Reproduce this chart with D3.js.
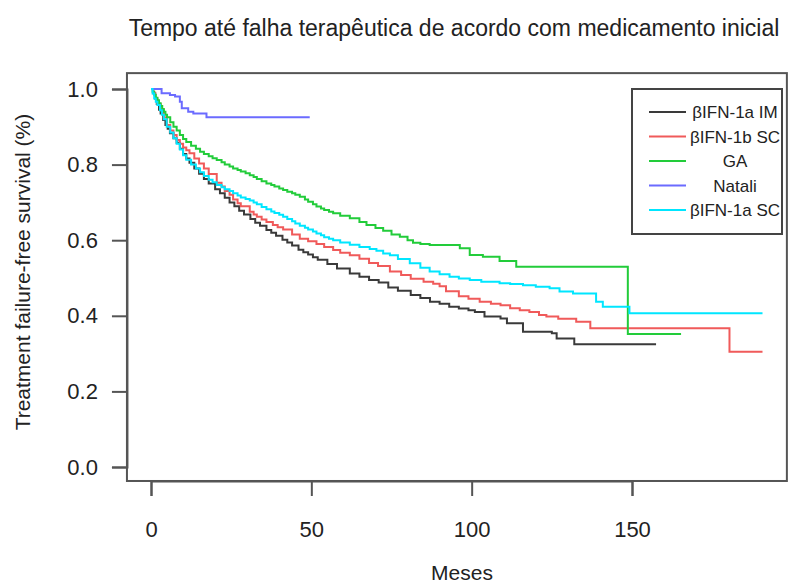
<!DOCTYPE html>
<html>
<head>
<meta charset="utf-8">
<script src="https://cdn.jsdelivr.net/npm/d3@7"></script>
<style>
  body { margin: 0; background: #fff; }
  text { font-family: "Liberation Sans", Arial, sans-serif; fill: #222; }
</style>
</head>
<body>
<div id="vis"></div>
<script>
var width = 791,
    height = 586;

// series names and colours
var seriesNames = ["βIFN-1a IM", "βIFN-1b SC", "GA", "Natali", "βIFN-1a SC"];
var seriesColors = ["#3a3a3a", "#f05a5a", "#22cc3a", "#6b6bff", "#00e6ff"];

// time (months) and survival
var imTime = [0, 0.7, 1.3, 1.8, 2.5, 3, 3.8, 4.5, 5.2, 5.9, 7, 8, 9, 10, 11, 12, 13.5, 15, 16.5, 18, 20, 21.5, 23, 24.5, 26, 27.5, 29, 31, 32.5, 34, 36, 37.5, 39, 41, 42.5, 44, 46, 47.5, 49, 50.5, 52, 55, 58, 62, 65, 68, 71, 74, 77, 81, 84, 87, 90, 93, 96, 99, 101, 104, 109, 111, 116, 125, 126.5, 132, 157.5];
var imSurv = [1.0, 0.989, 0.975, 0.96, 0.945, 0.935, 0.918, 0.905, 0.895, 0.883, 0.87, 0.858, 0.842, 0.828, 0.816, 0.805, 0.79, 0.776, 0.762, 0.75, 0.735, 0.724, 0.712, 0.70, 0.69, 0.678, 0.668, 0.656, 0.646, 0.638, 0.627, 0.62, 0.612, 0.601, 0.594, 0.586, 0.575, 0.568, 0.562, 0.555, 0.548, 0.537, 0.525, 0.512, 0.503, 0.495, 0.488, 0.475, 0.466, 0.455, 0.447, 0.437, 0.432, 0.424, 0.419, 0.415, 0.41, 0.398, 0.393, 0.38, 0.358, 0.354, 0.34, 0.325, 0.325];

var bscTime = [0, 0.7, 1.3, 2, 3, 4, 5, 6, 7, 8, 9, 10, 11, 12, 13.5, 15, 16.5, 18, 20.5, 22, 23, 24.5, 25.6, 27, 28, 30.8, 32, 33, 34.5, 36, 38, 39.5, 41.2, 44, 46.4, 49, 51.6, 54, 56.8, 59, 62, 65, 68, 70.8, 74.5, 78, 81, 85, 88, 90, 92, 96, 99, 102.5, 106, 109, 112, 115, 118, 121, 123.3, 127, 132.6, 137, 180.4, 190.7];
var bscSurv = [1.0, 0.99, 0.975, 0.96, 0.944, 0.925, 0.905, 0.89, 0.878, 0.865, 0.855, 0.845, 0.838, 0.83, 0.816, 0.803, 0.79, 0.775, 0.752, 0.742, 0.73, 0.72, 0.708, 0.698, 0.69, 0.675, 0.668, 0.662, 0.655, 0.648, 0.64, 0.634, 0.628, 0.615, 0.604, 0.597, 0.59, 0.582, 0.574, 0.567, 0.56, 0.551, 0.54, 0.532, 0.517, 0.508, 0.498, 0.49, 0.485, 0.478, 0.465, 0.452, 0.445, 0.437, 0.432, 0.428, 0.42, 0.415, 0.41, 0.402, 0.398, 0.392, 0.384, 0.367, 0.305, 0.305];

var gaTime = [0, 0.5, 1, 1.5, 2, 2.5, 3, 3.5, 4, 4.5, 5, 6, 7, 8, 9, 10, 11, 12.5, 14, 15.3, 16.5, 18, 19.2, 20.5, 22, 23, 24.5, 25.6, 27, 28, 29.5, 30.8, 32, 33, 34.5, 36, 37.5, 38.5, 40, 41.2, 42.5, 44, 45, 46.4, 48, 49, 50.5, 51.6, 53, 54, 55.5, 56.8, 59, 62, 65, 67.2, 70, 72.4, 75, 77.6, 80, 81.7, 84, 86.9, 96.3, 99.4, 103.5, 108.7, 113.9, 148.7, 165.3];
var gaSurv = [1.0, 0.993, 0.985, 0.977, 0.97, 0.962, 0.955, 0.947, 0.94, 0.932, 0.925, 0.912, 0.9, 0.89, 0.878, 0.868, 0.86, 0.85, 0.842, 0.834, 0.828, 0.822, 0.817, 0.812, 0.806, 0.8, 0.795, 0.79, 0.786, 0.782, 0.777, 0.772, 0.767, 0.762, 0.756, 0.75, 0.746, 0.742, 0.737, 0.733, 0.728, 0.724, 0.72, 0.715, 0.708, 0.702, 0.695, 0.689, 0.684, 0.68, 0.675, 0.671, 0.665, 0.658, 0.648, 0.64, 0.632, 0.625, 0.615, 0.609, 0.6, 0.593, 0.59, 0.587, 0.579, 0.561, 0.556, 0.545, 0.53, 0.352, 0.352];

var natTime = [0, 3.3, 5.9, 7.5, 9.0, 9.6, 11.6, 13.2, 17.3, 49.5];
var natSurv = [1.0, 0.989, 0.984, 0.98, 0.966, 0.949, 0.94, 0.935, 0.925, 0.925];

var ascTime = [0, 0.5, 1, 1.5, 2, 2.8, 3.4, 4, 4.9, 6, 7, 8, 9, 10, 11, 12.5, 14, 15.3, 16.5, 18, 19.2, 20.5, 22, 23, 24.5, 25.6, 27, 28, 29.5, 30.8, 32, 33, 34.5, 36, 37.5, 38.5, 40, 41.2, 42.5, 44, 45, 46.4, 48, 49, 50.5, 51.6, 53, 54, 55.5, 56.8, 59, 62, 65, 68.2, 70.3, 72.4, 74.5, 77, 80.7, 84, 86.9, 90, 93.1, 96, 99.4, 103, 108.7, 112, 116, 120, 124.3, 127.4, 131.6, 138.8, 140.9, 149.2, 190.7];
var ascSurv = [1.0, 0.988, 0.975, 0.966, 0.958, 0.944, 0.932, 0.92, 0.9, 0.885, 0.87, 0.855, 0.84, 0.825, 0.813, 0.8, 0.79, 0.78, 0.77, 0.76, 0.753, 0.746, 0.74, 0.735, 0.73, 0.724, 0.718, 0.713, 0.709, 0.705, 0.7, 0.695, 0.688, 0.682, 0.676, 0.672, 0.667, 0.662, 0.656, 0.65, 0.644, 0.638, 0.633, 0.628, 0.623, 0.618, 0.613, 0.608, 0.604, 0.6, 0.594, 0.588, 0.582, 0.577, 0.572, 0.565, 0.56, 0.55, 0.539, 0.527, 0.517, 0.51, 0.503, 0.499, 0.495, 0.49, 0.486, 0.484, 0.481, 0.477, 0.473, 0.464, 0.459, 0.437, 0.424, 0.407, 0.407];

var xTicks = [0, 50, 100, 150];
var yTicks = [0.0, 0.2, 0.4, 0.6, 0.8, 1.0];

var series = [
  {time: imTime, surv: imSurv},
  {time: bscTime, surv: bscSurv},
  {time: gaTime, surv: gaSurv},
  {time: natTime, surv: natSurv},
  {time: ascTime, surv: ascSurv}
];

var x = d3.scaleLinear().domain([0, 150]).range([151, 632]);
var y = d3.scaleLinear().domain([0, 1]).range([467, 89]);

var svg = d3.select("#vis").append("svg")
    .attr("width", width)
    .attr("height", height);

// title
svg.append("text")
    .attr("x", 454)
    .attr("y", 36)
    .attr("text-anchor", "middle")
    .style("font-size", "23px")
    .text("Tempo até falha terapêutica de acordo com medicamento inicial");

// plot frame
var boxLeft = x(-7.5), boxRight = x(198.3), boxTop = y(1.042), boxBottom = y(-0.037);
svg.append("rect")
    .attr("x", boxLeft)
    .attr("y", boxTop)
    .attr("width", boxRight - boxLeft)
    .attr("height", boxBottom - boxTop)
    .attr("fill", "none")
    .attr("stroke", "#555")
    .attr("stroke-width", 2);

// y axis
var yAxis = svg.append("g")
    .attr("transform", "translate(" + boxLeft + ",0)")
    .call(d3.axisLeft(y).tickValues(yTicks).tickSize(15).tickPadding(14).tickFormat(d3.format(".1f")));
yAxis.select(".domain").attr("stroke", "#555").attr("stroke-width", 2);
yAxis.selectAll(".tick line").attr("stroke", "#555").attr("stroke-width", 2);
yAxis.selectAll(".tick text").style("font-size", "22px").style("font-family", "Liberation Sans, Arial, sans-serif").attr("fill", "#222");

// x axis
var xAxis = svg.append("g")
    .attr("transform", "translate(0," + boxBottom + ")")
    .call(d3.axisBottom(x).tickValues(xTicks).tickSize(15).tickPadding(25));
xAxis.select(".domain").attr("stroke", "#555").attr("stroke-width", 2);
xAxis.selectAll(".tick line").attr("stroke", "#555").attr("stroke-width", 2);
xAxis.selectAll(".tick text").style("font-size", "22px").style("font-family", "Liberation Sans, Arial, sans-serif").attr("fill", "#222");

// axis labels
svg.append("text")
    .attr("x", 462)
    .attr("y", 580)
    .attr("text-anchor", "middle")
    .style("font-size", "21px")
    .text("Meses");

svg.append("text")
    .attr("transform", "translate(30," + ((boxTop + boxBottom) / 2 - 5) + ") rotate(-90)")
    .attr("text-anchor", "middle")
    .style("font-size", "21px")
    .text("Treatment failure-free survival (%)");

// survival curves
var line = d3.line()
    .x(function(d){ return x(d[0]); })
    .y(function(d){ return y(d[1]); })
    .curve(d3.curveStepAfter);

svg.selectAll(".curve").data(series).enter()
    .append("path")
    .attr("class", "curve")
    .attr("fill", "none")
    .attr("stroke", function(d, i){ return seriesColors[i]; })
    .attr("stroke-width", 2)
    .attr("d", function(d){
        return line(d.time.map(function(t, j){ return [t, d.surv[j]]; }));
    });

// legend
var legend = svg.append("g").attr("transform", "translate(632,89)");
legend.append("rect")
    .attr("width", 150)
    .attr("height", 145)
    .attr("fill", "#fff")
    .attr("stroke", "#444")
    .attr("stroke-width", 2);

var items = legend.selectAll(".item").data(seriesNames).enter()
    .append("g")
    .attr("class", "item")
    .attr("transform", function(d, i){ return "translate(0," + (23 + i * 24.5) + ")"; });

items.append("line")
    .attr("x1", 17).attr("x2", 54)
    .attr("stroke", function(d, i){ return seriesColors[i]; })
    .attr("stroke-width", 2);

items.append("text")
    .attr("x", 103)
    .attr("y", 6)
    .attr("text-anchor", "middle")
    .style("font-size", "17px")
    .text(function(d){ return d; });
</script>
</body>
</html>
